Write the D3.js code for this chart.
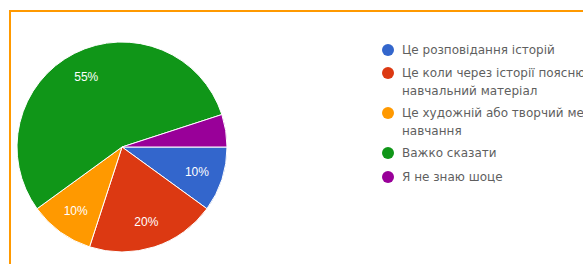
<!DOCTYPE html>
<html>
<head>
<meta charset="utf-8">
<script src="https://cdn.jsdelivr.net/npm/d3@7/dist/d3.min.js"></script>
<style>
  html, body { margin: 0; padding: 0; background: #fff; overflow: hidden; }
  svg { display: block; font-family: "Liberation Sans", Arial, sans-serif; }
</style>
</head>
<body>
<svg id="chart" width="583" height="264"></svg>
<script>
// відповіді (порядок як у легенді Google Forms)
const labels = [
  ["Це розповідання історій"],
  ["Це коли через історії пояснюють", "навчальний матеріал"],
  ["Це художній або творчий метод", "навчання"],
  ["Важко сказати"],
  ["Я не знаю шоце"]
];
const shares = [10, 20, 10, 55, 5];
const colors = ["#3366cc", "#dc3912", "#ff9900", "#109618", "#990099"];

const svg = d3.select("#chart");

// рамка картки
svg.append("path")
  .attr("d", "M10,264 V11 H583")
  .attr("fill", "none")
  .attr("stroke", "#ff9900")
  .attr("stroke-width", 2);

const cx = 122, cy = 147, r = 105;
const pie = d3.pie().sort(null).value(d => d)
  .startAngle(Math.PI / 2).endAngle(Math.PI / 2 + 2 * Math.PI);
const arc = d3.arc().innerRadius(0).outerRadius(r);
const labelArc = d3.arc().innerRadius(r * 0.75).outerRadius(r * 0.75);

const g = svg.append("g").attr("transform", `translate(${cx},${cy})`);
const arcs = pie(shares);

g.selectAll("path.slice").data(arcs).join("path")
  .attr("class", "slice")
  .attr("d", arc)
  .attr("fill", (d, i) => colors[i])
  .attr("stroke", "#fff")
  .attr("stroke-width", 1);

g.selectAll("text.pct").data(arcs.filter(d => d.data >= 10)).join("text")
  .attr("class", "pct")
  .attr("transform", d => `translate(${labelArc.centroid(d)})`)
  .attr("text-anchor", "middle")
  .attr("dy", "0.35em")
  .attr("fill", "#fff")
  .attr("font-size", 12)
  .text(d => d.data + "%");

// легенда
const rowY = [50, 73, 113, 153, 177];
const lg = svg.append("g");
labels.forEach((lines, i) => {
  lg.append("circle")
    .attr("cx", 388).attr("cy", rowY[i]).attr("r", 6)
    .attr("fill", colors[i]);
  lines.forEach((t, j) => {
    lg.append("text")
      .attr("x", 402).attr("y", rowY[i] + j * 18)
      .attr("dy", "0.35em")
      .attr("font-family", "DejaVu Sans, sans-serif")
      .attr("font-size", 12)
      .attr("fill", "#5f5f5f")
      .text(t);
  });
});
</script>
</body>
</html>
